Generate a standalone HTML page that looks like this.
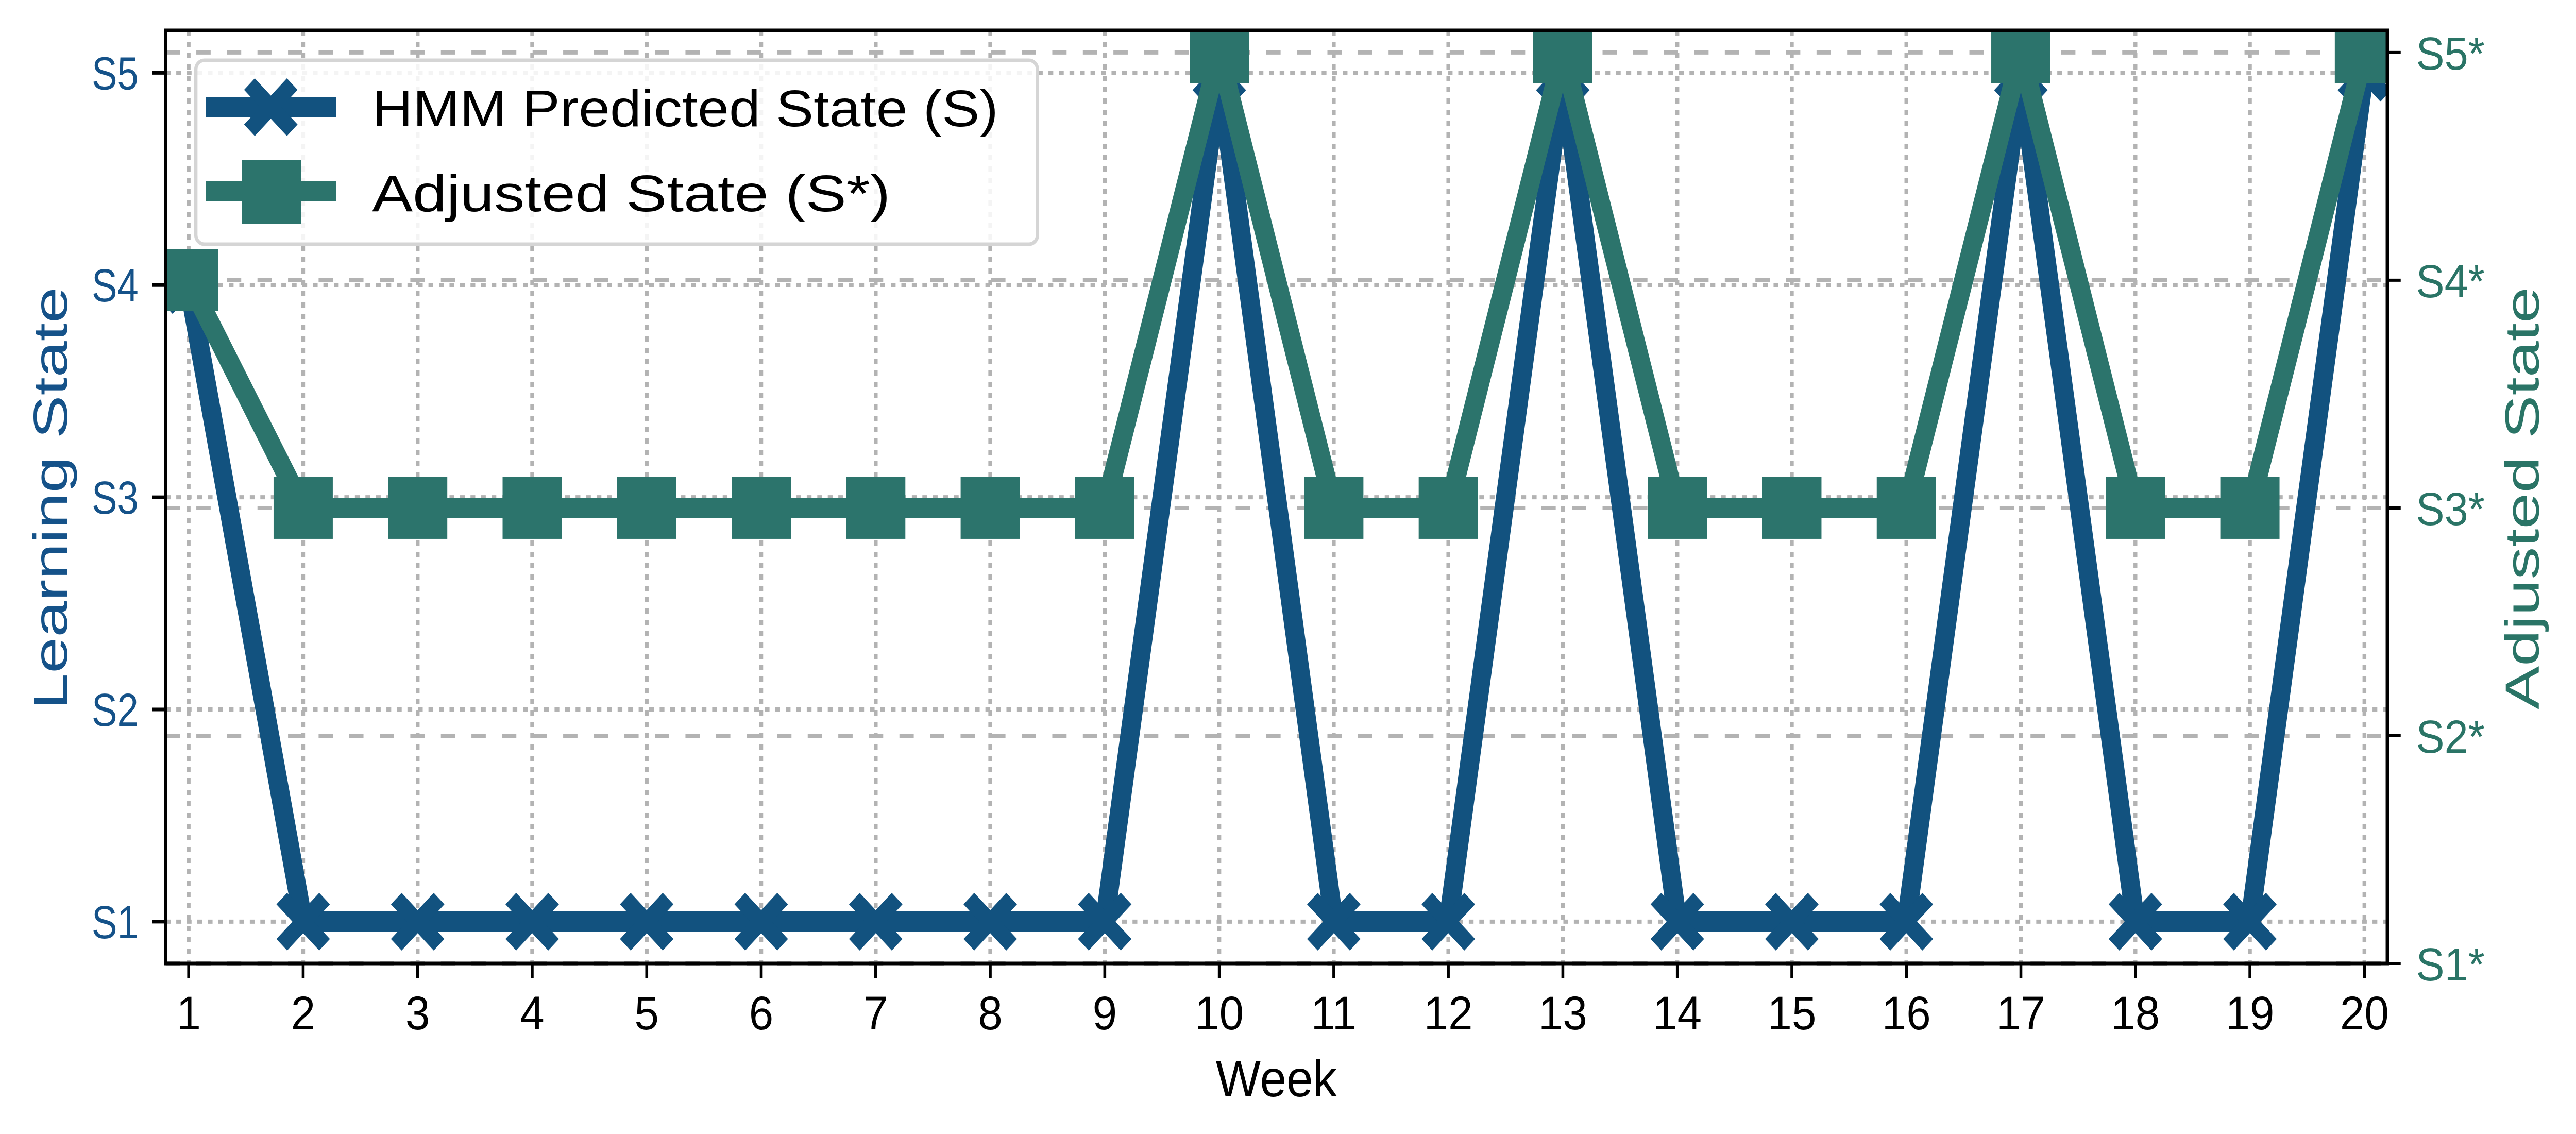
<!DOCTYPE html>
<html><head><meta charset="utf-8"><style>
html,body{margin:0;padding:0;background:#fff;width:100%;height:100%;overflow:hidden}
svg{display:block;position:absolute;left:0;top:0;width:100vw;height:100vh}
</style></head><body>
<svg id="chart" viewBox="0 0 5393 2201" preserveAspectRatio="none" xmlns="http://www.w3.org/2000/svg">
<rect width="5393" height="2201" fill="#fff"/>
<g id="grid"></g>
<g id="series"></g>
<g id="axes"></g>
<g id="legend">
  <rect x="410" y="117" width="1762" height="357" rx="18" fill="#fff" fill-opacity="0.85" stroke="#d5d5d5" stroke-width="7"/>
  <g>
    <line x1="431" y1="208" x2="704" y2="208" stroke="#12527f" stroke-width="40"/>
    <polygon id="legX" fill="#12527f"/>
    <text x="779" y="245" font-family="Liberation Sans, sans-serif" font-size="100" textLength="1311" lengthAdjust="spacingAndGlyphs" fill="#000">HMM Predicted State (S)</text>
  </g>
  <g>
    <line x1="431" y1="371" x2="704" y2="371" stroke="#2c746c" stroke-width="40"/>
    <rect x="506" y="310" width="124" height="124" fill="#2c746c"/>
    <text x="779" y="410" font-family="Liberation Sans, sans-serif" font-size="100" textLength="1085" lengthAdjust="spacingAndGlyphs" fill="#000">Adjusted State (S*)</text>
  </g>
</g>
<text x="2672" y="2128" text-anchor="middle" font-family="Liberation Sans, sans-serif" font-size="100" fill="#000">Week</text>
<text transform="translate(140,967) rotate(-90)" text-anchor="middle" font-family="Liberation Sans, sans-serif" font-size="100" textLength="820" lengthAdjust="spacingAndGlyphs" fill="#155289">Learning State</text>
<text transform="translate(5315,967) rotate(-90)" text-anchor="middle" font-family="Liberation Sans, sans-serif" font-size="100" textLength="820" lengthAdjust="spacingAndGlyphs" fill="#2a7466">Adjusted State</text>
</svg>
<script>
const weeks = [1,2,3,4,5,6,7,8,9,10,11,12,13,14,15,16,17,18,19,20];
const hmmState = [4,1,1,1,1,1,1,1,1,5,1,1,5,1,1,1,5,1,1,5];
const adjustedState = [4,3,3,3,3,3,3,3,3,5,3,3,5,3,3,3,5,3,3,5];
const leftTickLabels = ['S1','S2','S3','S4','S5'];
const rightTickLabels = ['S1*','S2*','S3*','S4*','S5*'];

const NS='http://www.w3.org/2000/svg';
const L=347,R=4998,T=59,B=1870;
const xMin=0.8,xMax=20.2, yLMin=0.803,yLMax=5.2, yRMin=1.0,yRMax=5.097;
const xS=v=>L+(v-xMin)/(xMax-xMin)*(R-L);
const yL=v=>B-(v-yLMin)/(yLMax-yLMin)*(B-T);
const yR=v=>B-(v-yRMin)/(yRMax-yRMin)*(B-T);
function mk(tag,attrs,parent){const e=document.createElementNS(NS,tag);for(const k in attrs)e.setAttribute(k,attrs[k]);parent.appendChild(e);return e;}
function xPoly(cx,cy,s){const a=s*0.2,b=s*0.5;const p=[[0,-a],[b-a,-b],[b,-b+a],[a,0],[b,b-a],[b-a,b],[0,a],[-b+a,b],[-b,b-a],[-a,0],[-b,-b+a],[-b+a,-b]];return p.map(q=>(cx+q[0])+','+(cy+q[1])).join(' ');}

const svg=document.getElementById('chart');
const defs=mk('defs',{},svg);
const cp=mk('clipPath',{id:'clip'},defs);
mk('rect',{x:L,y:T,width:R-L,height:B-T},cp);

const grid=document.getElementById('grid'),series=document.getElementById('series'),axes=document.getElementById('axes');
weeks.forEach(w=>{
  const x=xS(w);
  const g1=mk('line',{x1:x,y1:T,x2:x,y2:B,stroke:'#b3b3b3','stroke-width':8,'stroke-dasharray':'10,12'},grid);
  
  
});
leftTickLabels.forEach((t,i)=>{
  const y=yL(i+1);
  const g=mk('line',{x1:L,y1:y,x2:R,y2:y,stroke:'#b3b3b3','stroke-width':8,'stroke-dasharray':'10,12'},grid);
  
  
});
rightTickLabels.forEach((t,i)=>{
  const y=yR(i+1);
  const g=mk('line',{x1:L,y1:y,x2:R,y2:y,stroke:'#b3b3b3','stroke-width':8,'stroke-dasharray':'30,34'},grid);
  
  
});

const hp=mk('polyline',{points:weeks.map((w,i)=>xS(w)+','+yL(hmmState[i])).join(' '),fill:'none',stroke:'#12527f','stroke-width':40,'stroke-linejoin':'miter'},series);


weeks.forEach((w,i)=>{
  const m=mk('polygon',{points:xPoly(xS(w),yL(hmmState[i]),112),fill:'#12527f'},series);
  
  
});
const ap=mk('polyline',{points:weeks.map((w,i)=>xS(w)+','+yR(adjustedState[i])).join(' '),fill:'none',stroke:'#2c746c','stroke-width':40,'stroke-linejoin':'miter'},series);


weeks.forEach((w,i)=>{
  const m=mk('rect',{x:xS(w)-62,y:yR(adjustedState[i])-60,width:124,height:120,fill:'#2c746c'},series);
  
  
});
series.setAttribute('clip-path','url(#clip)');

const fr=mk('rect',{x:L,y:T,width:R-L,height:B-T,fill:'none',stroke:'#000','stroke-width':7},axes);


weeks.forEach(w=>{
  const x=xS(w);
  mk('line',{x1:x,y1:B,x2:x,y2:B+28,stroke:'#000','stroke-width':6},axes);
  const t=mk('text',{x:x,y:1998,'text-anchor':'middle','font-family':'Liberation Sans, sans-serif','font-size':92,fill:'#000'},axes);
  t.textContent=w;
  
  
});
leftTickLabels.forEach((lab,i)=>{
  const y=yL(i+1);
  mk('line',{x1:L-28,y1:y,x2:L,y2:y,stroke:'#000','stroke-width':7},axes);
  const t=mk('text',{x:290,y:y+32,'text-anchor':'end','font-family':'Liberation Sans, sans-serif','font-size':90,fill:'#155289',textLength:98,lengthAdjust:'spacingAndGlyphs'},axes);
  t.textContent=lab;
  
  
});
rightTickLabels.forEach((lab,i)=>{
  const y=yR(i+1);
  mk('line',{x1:R,y1:y,x2:R+28,y2:y,stroke:'#000','stroke-width':6},axes);
  const t=mk('text',{x:5058,y:y+33,'font-family':'Liberation Sans, sans-serif','font-size':90,fill:'#2a7466',textLength:144,lengthAdjust:'spacingAndGlyphs'},axes);
  t.textContent=lab;
  
  
});
document.getElementById('legX').setAttribute('points',xPoly(567,208,112));
</script>
</body></html>
